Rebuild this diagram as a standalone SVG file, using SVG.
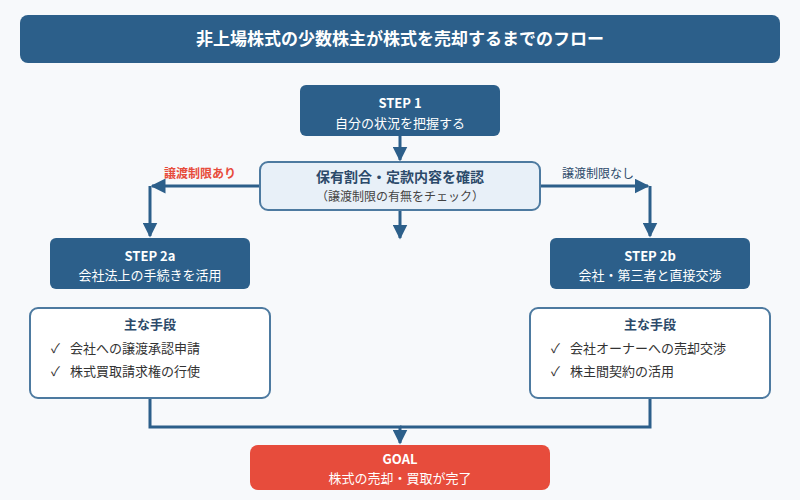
<svg xmlns="http://www.w3.org/2000/svg" width="800" height="500" viewBox="0 0 800 500">
<defs>
<style>
text{font-family:"Noto Sans CJK JP","Noto Sans",sans-serif;text-anchor:middle}
.dark{fill:#2c5f8a}
.w{fill:#fff}
.b{font-weight:bold}
.ln{stroke:#2c5f8a;stroke-width:3;fill:none}
.box{fill:#fff;stroke:#4d7aa0;stroke-width:2}
.it{text-anchor:start;font-size:13px;fill:#333}
</style>
<marker id="ah" viewBox="0 0 10 10" refX="9" refY="5" markerWidth="5" markerHeight="5" orient="auto"><path d="M0,0L10,5L0,10z" fill="#2c5f8a"/></marker>
</defs>
<rect width="800" height="500" fill="#f7f9fb"/>
<g id="title"><rect x="20" y="15" width="760" height="48" rx="8" class="dark"/><text x="400" y="45" class="w b" font-size="17">非上場株式の少数株主が株式を売却するまでのフロー</text></g>
<g id="connectors">
<line x1="400" y1="136" x2="400" y2="160" class="ln" marker-end="url(#ah)"/>
<polyline points="260,186 152,186" class="ln" marker-end="url(#ah)"/>
<polyline points="150,186 150,236" class="ln" marker-end="url(#ah)"/>
<polyline points="540,186 648,186" class="ln" marker-end="url(#ah)"/>
<polyline points="650,186 650,236" class="ln" marker-end="url(#ah)"/>
<line x1="400" y1="210" x2="400" y2="238" class="ln" marker-end="url(#ah)"/>
<polyline points="150,398 150,427 400,427 400,443" class="ln" marker-end="url(#ah)"/>
<polyline points="650,398 650,427 400,427" class="ln"/>
<text x="200" y="178" font-size="12" class="b" fill="#e74c3c">譲渡制限あり</text>
<text x="598" y="178" font-size="12" fill="#2c4a6a">譲渡制限なし</text>
</g>
<g id="step1"><rect x="300" y="85" width="200" height="51" rx="6" class="dark"/><text x="400" y="108" class="w b" font-size="13">STEP 1</text><text x="400" y="128" class="w" font-size="13">自分の状況を把握する</text></g>
<g id="check"><rect x="260" y="162" width="280" height="48" rx="8" fill="#e8f0f8" stroke="#4d7aa0" stroke-width="2"/><text x="400" y="182" class="b" font-size="14" fill="#2c4a6a">保有割合・定款内容を確認</text><text x="400" y="201" font-size="12" fill="#444">（譲渡制限の有無をチェック）</text></g>
<g id="step2a"><rect x="50" y="238" width="200" height="51" rx="6" class="dark"/><text x="150" y="261" class="w b" font-size="13">STEP 2a</text><text x="150" y="280" class="w" font-size="13">会社法上の手続きを活用</text></g>
<g id="step2b"><rect x="550" y="238" width="200" height="51" rx="6" class="dark"/><text x="650" y="261" class="w b" font-size="13">STEP 2b</text><text x="650" y="280" class="w" font-size="13">会社・第三者と直接交渉</text></g>
<g id="means2a"><rect x="30" y="308" width="240" height="90" rx="8" class="box"/><text x="150" y="329" class="b" font-size="13" fill="#2c4a6a">主な手段</text><text x="51" y="353" class="it">✓</text><text x="70" y="353" class="it">会社への譲渡承認申請</text><text x="51" y="376" class="it">✓</text><text x="70" y="376" class="it">株式買取請求権の行使</text></g>
<g id="means2b"><rect x="530" y="308" width="240" height="90" rx="8" class="box"/><text x="650" y="329" class="b" font-size="13" fill="#2c4a6a">主な手段</text><text x="551" y="353" class="it">✓</text><text x="570" y="353" class="it">会社オーナーへの売却交渉</text><text x="551" y="376" class="it">✓</text><text x="570" y="376" class="it">株主間契約の活用</text></g>
<g id="goal"><rect x="250" y="445" width="300" height="45" rx="8" fill="#e74c3c"/><text x="400" y="464" class="w b" font-size="13">GOAL</text><text x="400" y="483" class="w" font-size="13">株式の売却・買取が完了</text></g>
</svg>
